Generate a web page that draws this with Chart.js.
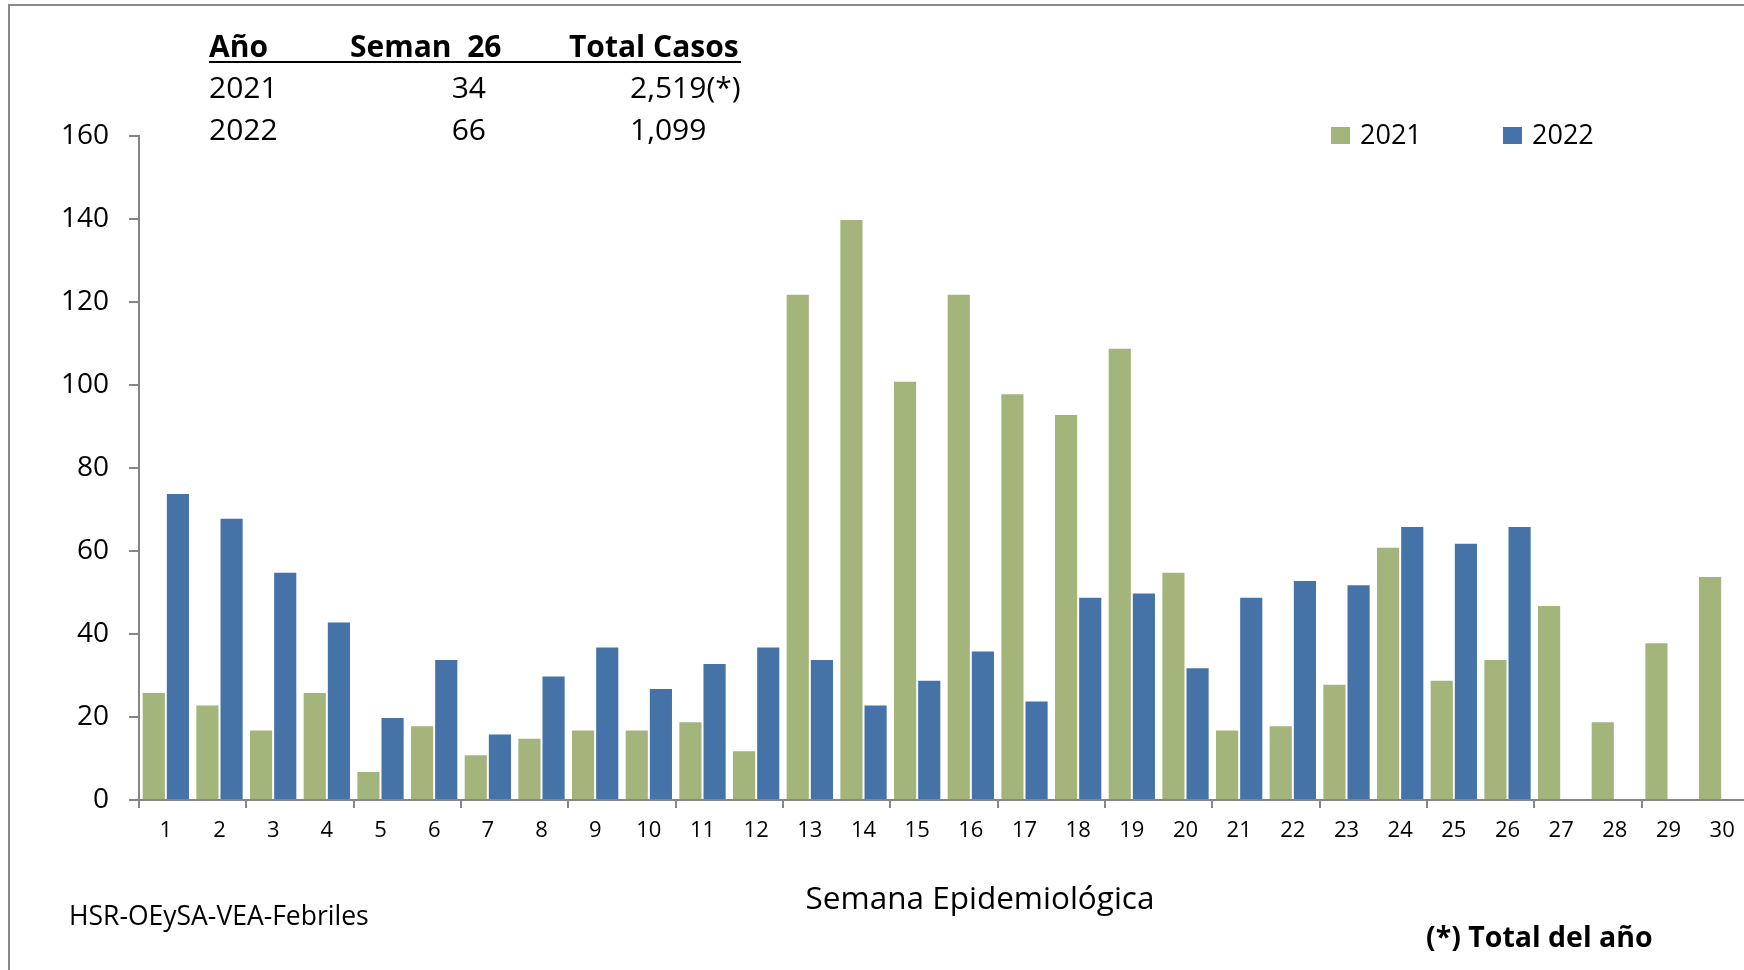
<!DOCTYPE html>
<html>
<head>
<meta charset="utf-8">
<script src="https://cdn.jsdelivr.net/npm/chart.js@4"></script>
<style>
  html, body { margin: 0; padding: 0; background: #fff; overflow: hidden; width: 1744px; height: 970px; }
  #frame { position: absolute; left: 8px; top: 4px; width: 2000px; height: 2000px; border-top: 2px solid #898989; border-left: 2px solid #898989; }
  #chart { position: absolute; left: 0; top: 0; }
  .t { position: absolute; font-family: "Open Sans", sans-serif; color: #000; line-height: 1; white-space: pre; }
  .b { font-weight: bold; }
</style>
</head>
<body>
<div id="frame"></div>
<canvas id="chart" width="1760" height="970"></canvas>

<!-- tabla resumen -->
<div class="t b" style="left:209px; top:31px; font-size:30px;">Año</div>
<div class="t b" style="left:350px; top:31px; font-size:30px;">Seman  26</div>
<div class="t b" style="left:569px; top:31px; font-size:30px;">Total Casos</div>
<div style="position:absolute; left:209px; top:61px; width:532px; height:2px; background:#000;"></div>
<div class="t" style="left:209px; top:72px; font-size:30px;">2021</div>
<div class="t" style="left:386px; width:100px; text-align:right; top:72px; font-size:30px;">34</div>
<div class="t" style="left:630px; top:72px; font-size:30px;">2,519(*)</div>
<div class="t" style="left:209px; top:114px; font-size:30px;">2022</div>
<div class="t" style="left:386px; width:100px; text-align:right; top:114px; font-size:30px;">66</div>
<div class="t" style="left:630px; top:114px; font-size:30px;">1,099</div>

<div class="t" style="left:980px; top:881px; font-size:31.5px; transform:translateX(-50%);">Semana Epidemiológica</div>
<div class="t" style="left:69px; top:902px; font-size:26.5px;">HSR-OEySA-VEA-Febriles</div>
<div class="t b" style="left:1426px; top:922px; font-size:28.5px;">(*) Total del año</div>

<script>
// Semanas epidemiologicas
const semanas = ['1','2','3','4','5','6','7','8','9','10','11','12','13','14','15',
                 '16','17','18','19','20','21','22','23','24','25','26','27','28','29','30'];
// Casos por semana
const casos2021 = [26, 23, 17, 26, 7, 18, 11, 15, 17, 17, 19, 12, 122, 140, 101,
                   122, 98, 93, 109, 55, 17, 18, 28, 61, 29, 34, 47, 19, 38, 54];
const casos2022 = [74, 68, 55, 43, 20, 34, 16, 30, 37, 27, 33, 37, 34, 23, 29,
                   36, 24, 49, 50, 32, 49, 53, 52, 66, 62, 66, null, null, null, null];
const yMin = 0;
const yMax = 160;
const yStep = 20;

const fuente = '"Open Sans", sans-serif';
const gris = '#868686';

// Leyenda en la esquina superior derecha
const leyenda = {
    id: 'leyenda',
    afterDraw(chart) {
        const ctx = chart.ctx;
        const xs = [1331, 1503];
        ctx.save();
        chart.data.datasets.forEach((ds, i) => {
            ctx.fillStyle = ds.backgroundColor;
            ctx.fillRect(xs[i], 127, 19, 17);
            ctx.fillStyle = '#000';
            ctx.font = '27px ' + fuente;
            ctx.textBaseline = 'middle';
            ctx.fillText(ds.label, xs[i] + 29, 136);
        });
        ctx.restore();
    }
};

const ctx = document.getElementById('chart').getContext('2d');
const grafico = new Chart(ctx, {
    type: 'bar',
    data: {
        labels: semanas,
        datasets: [{
            label: '2021',
            data: casos2021,
            backgroundColor: '#A4B57B',
            borderColor: 'rgba(255,255,255,0.6)',
            borderWidth: 1,
            categoryPercentage: 0.9,
            barPercentage: 1.0
        }, {
            label: '2022',
            data: casos2022,
            backgroundColor: '#4573A7',
            borderColor: 'rgba(255,255,255,0.6)',
            borderWidth: 1,
            categoryPercentage: 0.9,
            barPercentage: 1.0
        }]
    },
    options: {
        responsive: false,
        animation: false,
        devicePixelRatio: 1,
        layout: { padding: { left: 0, top: 136, right: 11, bottom: 110 } },
        plugins: {
            legend: { display: false },
            tooltip: { enabled: false }
        },
        scales: {
            x: {
                offset: true,
                grid: {
                    offset: true,
                    drawOnChartArea: false,
                    drawTicks: true,
                    tickLength: 8,
                    lineWidth: 2,
                    tickColor: c => c.index % 2 === 0 ? gris : 'rgba(0,0,0,0)'
                },
                border: { color: gris, width: 2 },
                ticks: {
                    color: '#000',
                    font: { family: fuente, size: 22 },
                    padding: 10,
                    maxRotation: 0,
                    autoSkip: false
                },
                afterFit: s => { s.height = 60; }
            },
            y: {
                min: yMin,
                max: yMax,
                grid: {
                    drawOnChartArea: false,
                    drawTicks: true,
                    tickLength: 10,
                    lineWidth: 2,
                    color: gris
                },
                border: { color: gris, width: 2 },
                ticks: {
                    stepSize: yStep,
                    color: '#000',
                    font: { family: fuente, size: 28 },
                    padding: 20
                },
                afterFit: s => { s.width = 139; }
            }
        }
    },
    plugins: [leyenda]
});
</script>
</body>
</html>
